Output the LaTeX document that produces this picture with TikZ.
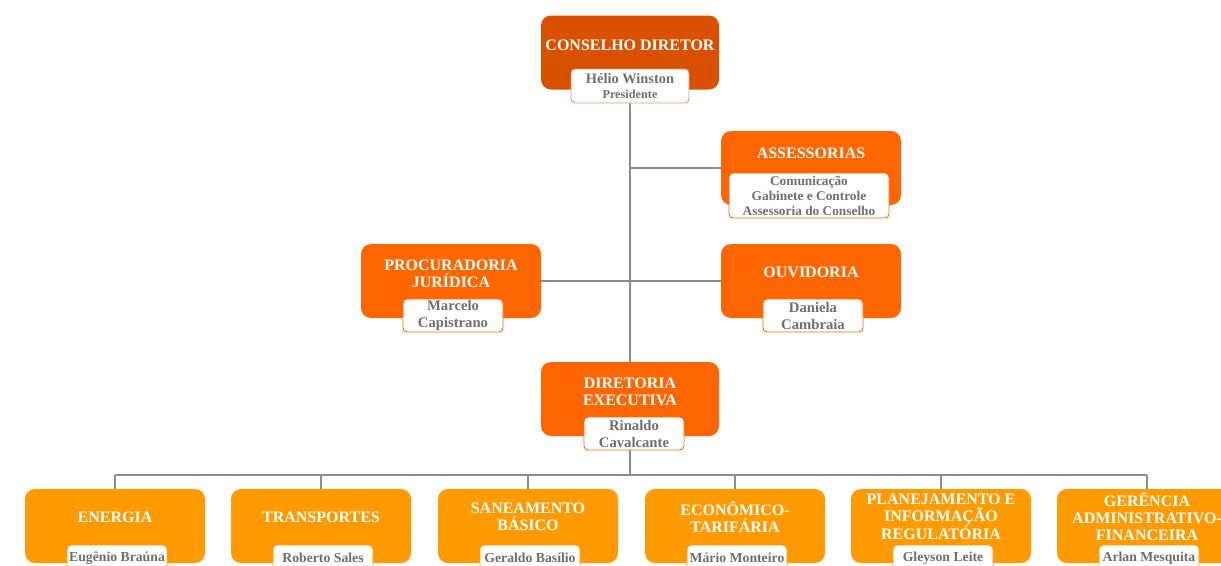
\documentclass[tikz,border=0pt]{standalone}
\usepackage{fontspec}
\setmainfont{Liberation Serif}
\usepackage{tikz}
\usetikzlibrary{positioning,backgrounds}
\definecolor{topclr}{HTML}{D95000}
\definecolor{midclr}{HTML}{FF6600}
\definecolor{lowclr}{HTML}{FF9A00}
\definecolor{lineclr}{HTML}{8C8C8C}
\definecolor{nameclr}{HTML}{6E6E6E}

\begin{document}
\begin{tikzpicture}[x=0.75pt,y=-0.75pt,
  unitbox/.style={rectangle,rounded corners=7.5pt,minimum width=135pt,minimum height=55.5pt,inner sep=0pt},
  unittitle/.style={text=white,font=\fontsize{12}{12.75}\selectfont\bfseries,align=center,inner sep=0pt},
  person/.style={draw=#1,fill=white,rounded corners=3pt,text=nameclr,
    font=\fontsize{11}{12.75}\selectfont\bfseries,align=center,
    minimum width=75pt,minimum height=24.75pt,inner sep=1pt,line width=0.7pt},
  link/.style={draw=lineclr,line width=1.4pt}]
\useasboundingbox (0,0) rectangle (1221,565);
\clip (0,0) rectangle (1221,565);

\node[unitbox,fill=topclr,minimum width=133.5pt] (cons) at (630,52.5) {};
\node[unittitle] (constitle) at (630,45) {CONSELHO DIRETOR};
\node[person=topclr!60,minimum width=88.5pt,minimum height=25.5pt,
  font=\fontsize{10.8}{12}\selectfont\bfseries] (consname) at (630,86)
  {Hélio Winston\\[-1pt]{\fontsize{9.2}{10}\selectfont Presidente}};

\node[unitbox,fill=midclr] (asse) at (811,168) {};
\node[unittitle] (assetitle) at (811,153) {ASSESSORIAS};
\node[person=midclr,minimum width=120pt,minimum height=33.75pt,
  font=\fontsize{10}{11.25}\selectfont\bfseries] (assename) at (809,195.5)
  {Comunicação\\Gabinete e Controle\\Assessoria do Conselho};

\node[unitbox,fill=midclr] (proc) at (451,281) {};
\node[unittitle] (proctitle) at (451,274) {PROCURADORIA\\JURÍDICA};
\node[person=midclr] (procname) at (453,315.5) {Marcelo\\Capistrano};

\node[unitbox,fill=midclr] (ouv) at (811,281) {};
\node[unittitle] (ouvtitle) at (811,272) {OUVIDORIA};
\node[person=midclr] (ouvname) at (813,315.5) {Daniela\\Cambraia};

\node[unitbox,fill=midclr,minimum width=133.5pt] (dir) at (630,399) {};
\node[unittitle] (dirtitle) at (630,392) {DIRETORIA\\EXECUTIVA};
\node[person=midclr] (dirname) at (634,433.5) {Rinaldo\\Cavalcante};

\coordinate (bus) at (630,475);

\foreach \i/\x/\ttl/\who in {1/115/{ENERGIA}/{Eugênio Braúna},
    2/321/{TRANSPORTES}/{Roberto Sales},
    3/528/{SANEAMENTO\\BÁSICO}/{Geraldo Basílio},
    4/735/{ECONÔMICO-\\TARIFÁRIA}/{Mário Monteiro},
    5/941/{PLANEJAMENTO E\\INFORMAÇÃO\\REGULATÓRIA}/{Gleyson Leite},
    6/1147/{GERÊNCIA\\ADMINISTRATIVO-\\FINANCEIRA}/{Arlan Mesquita}} {
  \node[unitbox,fill=lowclr] (dept\i) at (\x,526) {};
  \node[unittitle] (depttitle\i) at (\x,517) {\ttl};
  \node[person=lowclr,minimum height=19.5pt,font=\fontsize{10.3}{11.5}\selectfont\bfseries]
    (deptname\i) at (\x+2,558) {\who};
}

\begin{scope}[on background layer]
\draw[link] (consname) -- (dir);
\draw[link] (asse.west) -- (asse.west -| consname);
\draw[link] (proc) -- (ouv);
\draw[link] (dir) -- (bus);
\draw[link] (bus -| dept1) -- (bus -| dept6);
\foreach \i in {1,...,6}
  \draw[link] (bus -| dept\i) -- (dept\i);
\end{scope}
\end{tikzpicture}
\end{document}
